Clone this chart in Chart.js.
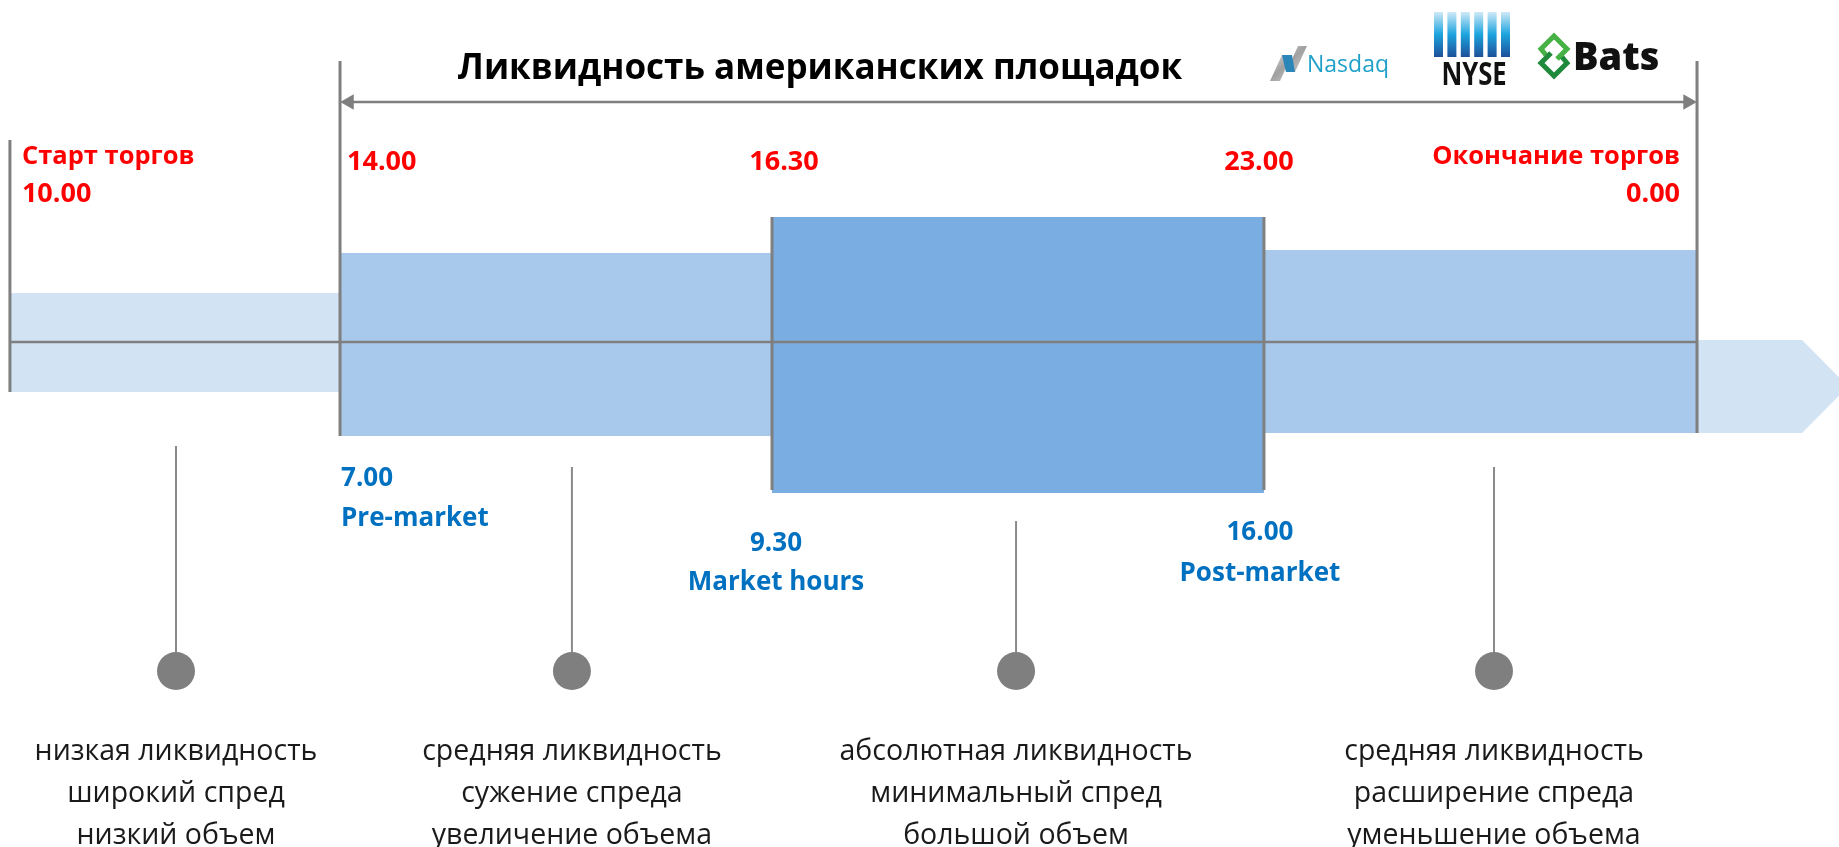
<!DOCTYPE html>
<html lang="ru">
<head>
<meta charset="utf-8">
<title>Ликвидность американских площадок</title>
<script src="https://cdn.jsdelivr.net/npm/chart.js@4"></script>
<style>
  html, body { margin: 0; padding: 0; background: #ffffff; }
  #liq { display: block; }
</style>
</head>
<body>
<canvas id="liq" width="1839" height="847"></canvas>
<script>
// schematic timeline: x in % of picture width, y in liquidity units (0 = timeline axis)
const segmentNames = ['До премаркета', 'Pre-market', 'Market hours', 'Post-market', 'После закрытия'];
const segmentStart = [0.54, 18.49, 41.98, 68.73, 92.28];
const segmentEnd = [18.49, 41.98, 68.73, 92.28, 97.99];
const bandTop = [4.9, 8.9, 12.5, 9.2, 0.2];
const bandBottom = [-5.0, -9.4, -15.1, -9.1, -9.1];
const arrowTip = 100.5;
const segmentColors = ['#d2e3f4', '#a8c9ec', '#7aade2', '#a8c9ec', '#d2e3f4'];

// vertical marks on session boundaries
const markX = [0.54, 18.49, 41.98, 68.73, 92.28];
const markTop = [20.2, 28.1, 12.5, 12.5, 28.1];
const markBottom = [-5.0, -9.4, -14.8, -14.8, -9.1];
const rangeY = 24.0; // level of the top double arrow

// Moscow time (red) and New York time (blue)
const moscowTimes = ['10.00', '14.00', '16.30', '23.00', '0.00'];
const newYorkTimes = ['7.00', '9.30', '16.00'];
const sessionLabels = ['Pre-market', 'Market hours', 'Post-market'];

// liquidity notes under the timeline
const noteX = [9.57, 31.1, 55.25, 81.24];
const noteLineTop = [-10.4, -12.5, -17.9, -12.5];
const noteDotY = -32.9;
const noteLines = [
  ['низкая ликвидность', 'широкий спред', 'низкий объем'],
  ['средняя ликвидность', 'сужение спреда', 'увеличение объема'],
  ['абсолютная ликвидность', 'минимальный спред', 'большой объем'],
  ['средняя ликвидность', 'расширение спреда', 'уменьшение объема']
];

const grey = '#7f7f7f';
const red = '#ff0000';
const blue = '#0070c0';
const FONT = '"Open Sans", "DejaVu Sans", sans-serif';

const datasets = [];

// bands: upper edge filled down to the lower edge
segmentStart.forEach((x0, i) => {
  const x1 = segmentEnd[i];
  const upper = [{x: x0, y: bandTop[i]}, {x: x1, y: bandTop[i]}];
  const lower = [{x: x0, y: bandBottom[i]}, {x: x1, y: bandBottom[i]}];
  if (i === segmentStart.length - 1) {
    const mid = (bandTop[i] + bandBottom[i]) / 2;
    upper.push({x: arrowTip, y: mid});
    lower.push({x: arrowTip, y: mid});
  }
  datasets.push({label: segmentNames[i], data: upper, borderWidth: 0, pointRadius: 0,
    backgroundColor: segmentColors[i], fill: '+1', order: 10});
  datasets.push({label: segmentNames[i] + ' (низ)', data: lower, borderWidth: 0, pointRadius: 0,
    fill: false, order: 10});
});

// timeline axis
datasets.push({label: 'axis', data: [{x: markX[0], y: 0}, {x: markX[4], y: 0}],
  borderColor: grey, borderWidth: 2.5, pointRadius: 0, fill: false, order: 2});

// boundary marks
markX.forEach((x, i) => {
  datasets.push({label: 'mark ' + i, data: [{x: x, y: markTop[i]}, {x: x, y: markBottom[i]}],
    borderColor: grey, borderWidth: 3, pointRadius: 0, fill: false, order: 1});
});

// double arrow over the US session (heads sit just inside the marks)
datasets.push({label: 'range', data: [{x: markX[1] + 0.5, y: rangeY}, {x: markX[4] - 0.5, y: rangeY}],
  borderColor: grey, borderWidth: 2.5, fill: false, order: 1,
  pointStyle: 'triangle', pointRadius: 9, pointRotation: [-90, 90],
  pointBackgroundColor: grey, pointBorderColor: grey, pointBorderWidth: 0});

// stems with dots
noteX.forEach((x, i) => {
  datasets.push({label: 'note ' + i, data: [{x: x, y: noteLineTop[i]}, {x: x, y: noteDotY}],
    borderColor: '#8a8a8a', borderWidth: 2, fill: false, order: 1,
    pointRadius: [0, 19], pointBackgroundColor: grey, pointBorderWidth: 0});
});

function drawLogos(ctx) {
  // Nasdaq
  ctx.save();
  const g = ctx.createLinearGradient(1272, 45, 1304, 80);
  g.addColorStop(0, '#eeeeee');
  g.addColorStop(0.5, '#a0a0a0');
  g.addColorStop(1, '#d8d8d8');
  ctx.fillStyle = g;
  ctx.beginPath();
  ctx.moveTo(1270, 81); ctx.lineTo(1280, 81); ctx.lineTo(1292, 55); ctx.lineTo(1282, 55); ctx.closePath();
  ctx.fill();
  ctx.beginPath();
  ctx.moveTo(1286, 72); ctx.lineTo(1295, 72); ctx.lineTo(1307, 46); ctx.lineTo(1298, 46); ctx.closePath();
  ctx.fill();
  ctx.fillStyle = '#2a86b8';
  ctx.beginPath();
  ctx.moveTo(1282, 55); ctx.lineTo(1292, 55); ctx.lineTo(1295, 72); ctx.lineTo(1286, 72); ctx.closePath();
  ctx.fill();
  ctx.fillStyle = '#1ea0c8';
  ctx.font = '400 23px ' + FONT;
  ctx.textAlign = 'left';
  ctx.textBaseline = 'alphabetic';
  ctx.fillText('Nasdaq', 1307, 72);
  ctx.restore();

  // NYSE
  ctx.save();
  const b = ctx.createLinearGradient(0, 12, 0, 57);
  b.addColorStop(0, '#cfe9f8');
  b.addColorStop(0.5, '#1ca4de');
  b.addColorStop(1, '#1e4f98');
  ctx.fillStyle = b;
  for (let k = 0; k < 6; k++) ctx.fillRect(1434 + k * 13.4, 12, 9, 45);
  ctx.fillStyle = '#111111';
  ctx.translate(1474, 85);
  ctx.scale(0.8, 1);
  ctx.font = '700 32px ' + FONT;
  ctx.textAlign = 'center';
  ctx.fillText('NYSE', 0, 0);
  ctx.restore();

  // Bats: two interlocked green links
  ctx.save();
  ctx.lineWidth = 5;
  ctx.lineJoin = 'miter';
  ctx.lineCap = 'butt';
  ctx.strokeStyle = '#46b245';
  ctx.beginPath();
  ctx.moveTo(1546, 55); ctx.lineTo(1541, 49); ctx.lineTo(1554, 36); ctx.lineTo(1567, 49); ctx.lineTo(1557, 59);
  ctx.stroke();
  ctx.strokeStyle = '#1f8a3b';
  ctx.beginPath();
  ctx.moveTo(1562, 57); ctx.lineTo(1567, 63); ctx.lineTo(1554, 76); ctx.lineTo(1541, 63); ctx.lineTo(1551, 53);
  ctx.stroke();
  ctx.fillStyle = '#111111';
  ctx.font = '800 38px ' + FONT;
  ctx.textAlign = 'left';
  ctx.fillText('Bats', 1573, 70);
  ctx.restore();
}

const labelsPlugin = {
  id: 'labels',
  afterDatasetsDraw(chart) {
    const {ctx, scales: {x, y}} = chart;
    const axisY = y.getPixelForValue(0);
    const px = v => x.getPixelForValue(v);
    const text = (t, tx, ty, align) => { ctx.textAlign = align; ctx.fillText(t, tx, ty); };
    ctx.save();
    ctx.textBaseline = 'alphabetic';

    // title
    ctx.fillStyle = '#000000';
    ctx.font = '700 35px ' + FONT;
    text('Ликвидность американских площадок', 820, 79, 'center');

    // Moscow time
    ctx.fillStyle = red;
    ctx.font = '700 25.5px ' + FONT;
    text('Старт торгов', px(markX[0]) + 12, axisY - 178, 'left');
    text('Окончание торгов', px(markX[4]) - 17, axisY - 178, 'right');
    ctx.font = '700 27px ' + FONT;
    text(moscowTimes[0], px(markX[0]) + 12, axisY - 140, 'left');
    text(moscowTimes[1], px(markX[1]) + 7, axisY - 172, 'left');
    text(moscowTimes[2], px(markX[2]) + 12, axisY - 172, 'center');
    text(moscowTimes[3], px(markX[3]) - 5, axisY - 172, 'center');
    text(moscowTimes[4], px(markX[4]) - 17, axisY - 140, 'right');

    // New York time
    ctx.fillStyle = blue;
    ctx.font = '700 26px ' + FONT;
    text(newYorkTimes[0], px(markX[1]) + 1, axisY + 144, 'left');
    text(sessionLabels[0], px(markX[1]) + 1, axisY + 184, 'left');
    text(newYorkTimes[1], px(markX[2]) + 4, axisY + 209, 'center');
    text(sessionLabels[1], px(markX[2]) + 4, axisY + 248, 'center');
    text(newYorkTimes[2], px(markX[3]) - 4, axisY + 198, 'center');
    text(sessionLabels[2], px(markX[3]) - 4, axisY + 239, 'center');

    // notes
    ctx.fillStyle = '#1a1a1a';
    ctx.font = '400 28.5px ' + FONT;
    const dotY = y.getPixelForValue(noteDotY);
    noteLines.forEach((lines, i) => {
      lines.forEach((t, j) => text(t, px(noteX[i]), dotY + 89 + j * 42, 'center'));
    });

    drawLogos(ctx);
    ctx.restore();
  }
};

new Chart(document.getElementById('liq'), {
  type: 'line',
  data: {datasets: datasets},
  options: {
    responsive: false,
    animation: false,
    devicePixelRatio: 1,
    layout: {padding: 0, autoPadding: false},
    scales: {
      x: {type: 'linear', min: 0, max: 100, display: false},
      y: {type: 'linear', min: -50.5, max: 34.2, display: false}
    },
    plugins: {
      legend: {display: false},
      tooltip: {enabled: false}
    },
    elements: {line: {tension: 0}}
  },
  plugins: [labelsPlugin]
});
</script>
</body>
</html>
